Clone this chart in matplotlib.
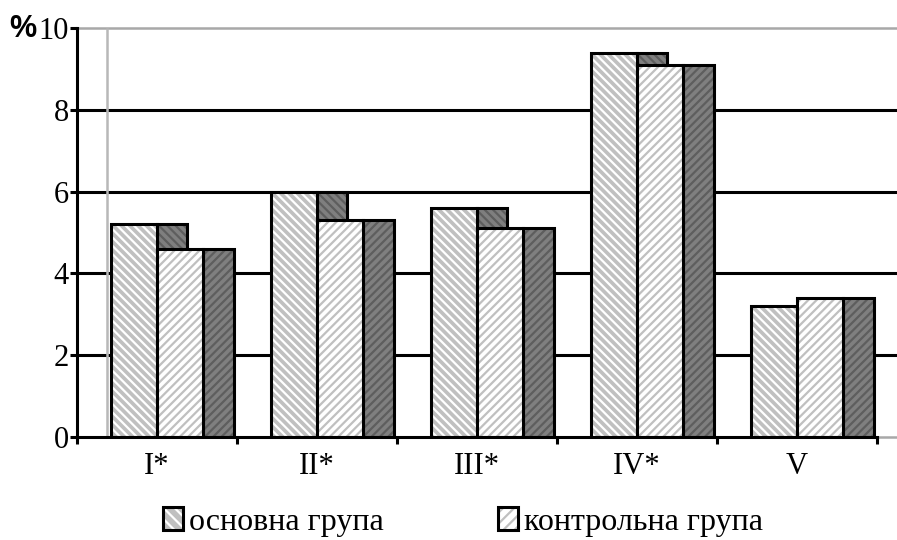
import matplotlib
matplotlib.use('Agg')
import matplotlib.pyplot as plt
from matplotlib.patches import Patch
from matplotlib.legend_handler import HandlerTuple
import numpy as np

# data
categories = ['I*', 'II*', 'III*', 'IV*', 'V']
main_group = [5.2, 6.0, 5.6, 9.4, 3.2]
control_group = [4.6, 5.3, 5.1, 9.1, 3.4]
series_labels = ['основна група', 'контрольна група']
y_ticks = [0, 2, 4, 6, 8, 10]

plt.rcParams['font.family'] = 'Liberation Serif'
plt.rcParams['hatch.linewidth'] = 1.6

W, H = 897, 540
fig = plt.figure(figsize=(W / 100, H / 100), dpi=100)
ax = fig.add_axes([77 / W, (H - 437) / H, (W - 77) / W, (437 - 28) / H])

bw = 0.29     # front face width
depth = 0.19  # side face width (3D look)
xmin, xmax = -0.5, 4.625
back_x = xmin + depth

c_main = '#c0c0c0'
c_ctrl = '#ffffff'
c_side = '#7f7f7f'
c_side_h = '#5e5e5e'


def face(x, h, w, fc, hatch, hc, z):
    ax.bar(x, h, width=w, align='edge', color=fc, edgecolor='none', linewidth=0, zorder=z)
    ax.bar(x, h, width=w, align='edge', fill=False, hatch=hatch, edgecolor=hc, linewidth=0, zorder=z)
    ax.bar(x, h, width=w, align='edge', fill=False, edgecolor='black', linewidth=2.2, zorder=z)


x = np.arange(len(categories))
# main group: side then front
face(x, main_group, depth, c_side, '\\\\\\\\', c_side_h, 2)
face(x - bw, main_group, bw, c_main, '\\\\\\\\', 'white', 3)
# control group: side then front (front covers side of main group)
face(x + bw, control_group, depth, c_side, '////', c_side_h, 4)
face(x, control_group, bw, c_ctrl, '////', c_main, 5)

# back wall and gridlines
ax.hlines(y_ticks[1:-1], back_x, xmax, color='black', lw=2.2, zorder=1, clip_on=False)
ax.hlines(y_ticks[1:-1], xmin, back_x, color='black', lw=2.2, zorder=1, clip_on=False)
ax.hlines(10, xmin, xmax, color='#a8a8a8', lw=1.8, zorder=1, clip_on=False)
ax.vlines(back_x, 0, 10, color='#b8b8b8', lw=1.8, zorder=1, clip_on=False)
ax.hlines(0, 4.5, xmax, color='#a8a8a8', lw=1.8, zorder=1, clip_on=False)

ax.set_xlim(xmin, xmax)
ax.set_ylim(0, 10)
for s in ['top', 'right']:
    ax.spines[s].set_visible(False)
ax.spines['left'].set_linewidth(2.2)
ax.spines['bottom'].set_linewidth(2.2)
ax.spines['bottom'].set_bounds(-0.5, 4.5)
ax.spines['left'].set_zorder(6)
ax.spines['bottom'].set_zorder(6)

ax.set_yticks(y_ticks)
ax.set_yticklabels([str(t) for t in y_ticks])
ax.tick_params(axis='y', length=5, width=2.2, labelsize=22, pad=1)
ax.set_xticks(np.arange(-0.5, 5, 1.0))
ax.set_xticklabels([])
ax.set_xticks(x, minor=True)
ax.set_xticklabels(categories, minor=True)
ax.tick_params(axis='x', which='major', length=5, width=2.2)
ax.tick_params(axis='x', which='minor', length=0, labelsize=22, pad=11)

fig.text(36 / W, 1 - 29 / H, '%', ha='right', va='center', fontsize=22,
         fontweight='bold', family='Liberation Sans')

# legend
h_main = (Patch(facecolor=c_main, edgecolor='none'),
          Patch(fill=False, hatch='\\\\\\', edgecolor='white', linewidth=0),
          Patch(fill=False, edgecolor='black', linewidth=2.2))
h_ctrl = (Patch(facecolor=c_ctrl, edgecolor='none'),
          Patch(fill=False, hatch='///', edgecolor=c_main, linewidth=0),
          Patch(fill=False, edgecolor='black', linewidth=2.2))
fig.legend([h_main, h_ctrl], series_labels, ncol=2, loc='center',
           bbox_to_anchor=(463 / W, 1 - 522 / H), frameon=False, fontsize=23,
           handlelength=0.63, handleheight=0.72, handletextpad=0.2,
           columnspacing=3.55, borderpad=0,
           handler_map={tuple: HandlerTuple(ndivide=1, pad=0)})

fig.savefig('out.png', dpi=100, facecolor='white')
